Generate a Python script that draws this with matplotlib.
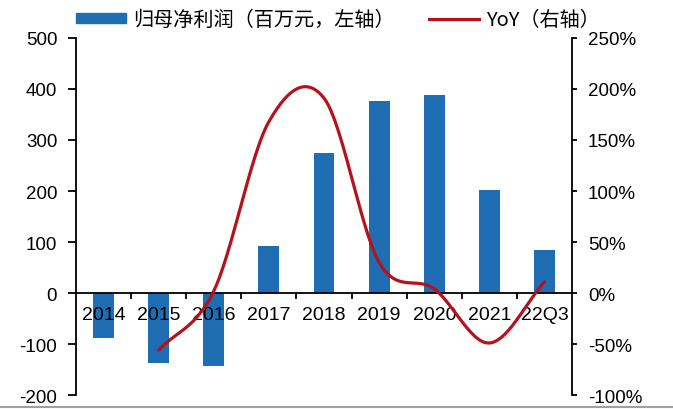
import numpy as np
import matplotlib
matplotlib.use('Agg')
import matplotlib.pyplot as plt
from matplotlib.lines import Line2D
from matplotlib.patches import Patch

plt.rcParams['font.family'] = ['Liberation Sans', 'Noto Sans CJK SC', 'DejaVu Sans']
plt.rcParams['axes.unicode_minus'] = False

# data
categories = ['2014', '2015', '2016', '2017', '2018', '2019', '2020', '2021', '22Q3']
profit = [-88, -138, -143, 92, 275, 376, 389, 202, 84]      # 百万元
yoy_cats = ['2015', '2016', '2017', '2018', '2019', '2020', '2021', '22Q3']
yoy = [-56, 2, 168, 191, 30, 4, -49, 11]                    # %

bar_color = '#1F6DB3'
line_color = '#B5121B'


def catmull_rom(x, y, n=30):
    # smooth line through the points, like a spreadsheet "smoothed line"
    x = np.asarray(x, float)
    y = np.asarray(y, float)
    px = np.concatenate([[2 * x[0] - x[1]], x, [2 * x[-1] - x[-2]]])
    py = np.concatenate([[2 * y[0] - y[1]], y, [2 * y[-1] - y[-2]]])
    xs, ys = [], []
    t = np.linspace(0, 1, n)
    for i in range(1, len(px) - 2):
        for arr, out in ((px, xs), (py, ys)):
            p0, p1, p2, p3 = arr[i - 1], arr[i], arr[i + 1], arr[i + 2]
            out.append(0.5 * (2 * p1 + (-p0 + p2) * t
                              + (2 * p0 - 5 * p1 + 4 * p2 - p3) * t ** 2
                              + (-p0 + 3 * p1 - 3 * p2 + p3) * t ** 3))
    return np.concatenate(xs), np.concatenate(ys)


fig = plt.figure(figsize=(6.73, 4.10), dpi=100)
ax = fig.add_axes([0.1129, 0.0341, 0.7371, 0.8708])
ax2 = ax.twinx()

x = np.arange(len(categories))
ax.bar(x, profit, width=0.38, color=bar_color, zorder=2)
ax.set_xlim(-0.5, len(categories) - 0.5)
ax.set_ylim(-200, 500)
ax.set_yticks(range(-200, 501, 100))

xl = [categories.index(c) for c in yoy_cats]
sx, sy = catmull_rom(xl, yoy)
ax2.plot(sx, sy, color=line_color, lw=2.3, zorder=3, solid_capstyle='round')
ax2.set_ylim(-100, 250)
ax2.set_yticks(range(-100, 251, 50))
ax2.set_yticklabels([f'{v}%' for v in range(-100, 251, 50)])

for a in (ax, ax2):
    a.spines['top'].set_visible(False)
    a.spines['bottom'].set_visible(False)
    a.spines['left'].set_linewidth(1.3)
    a.spines['right'].set_linewidth(1.3)
ax.spines['right'].set_visible(False)
ax2.spines['left'].set_visible(False)
ax.tick_params(axis='y', labelsize=13.5, width=1.3, length=5.5, pad=8)
ax2.tick_params(axis='y', labelsize=13.5, width=1.3, length=3.5, pad=8)

# zero line with category ticks
ax.axhline(0, color='black', lw=1.3, zorder=4)
ax.set_xticks([])
for b in np.arange(0.5, len(categories) - 0.5, 1.0):
    ax.plot([b, b], [0, -10], color='black', lw=1.3, zorder=4, clip_on=False)
for i, c in enumerate(categories):
    ax.text(i, -25, c, ha='center', va='top', fontsize=14, zorder=5)

handles = [Patch(color=bar_color), Line2D([], [], color=line_color, lw=2.3)]
labels = ['归母净利润（百万元，左轴）', 'YoY（右轴）']
fig.legend(handles, labels, loc='center', bbox_to_anchor=(0.502, 0.950), ncol=2,
           frameon=False, handlelength=2.5, handleheight=0.35,
           columnspacing=1.7, handletextpad=0.35,
           prop={'family': ['Noto Sans CJK SC', 'DejaVu Sans'], 'size': 14.5})

fig.add_artist(Line2D([0, 1], [0.004, 0.004], color='#A0A0A0', lw=1.5))

fig.savefig('out.png', dpi=100)
